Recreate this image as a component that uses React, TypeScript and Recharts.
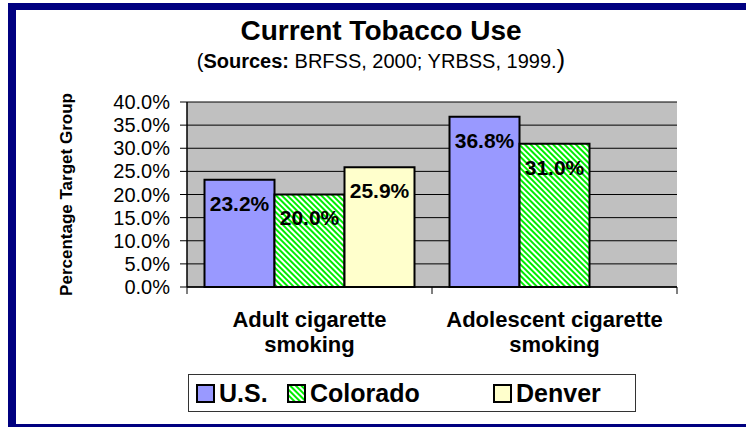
import React from 'react';
import { Bar, BarChart, CartesianGrid, LabelList, Legend, XAxis, YAxis } from 'recharts';

const categories = ['Adult cigarette\nsmoking', 'Adolescent cigarette\nsmoking'];
const usValues = [23.2, 36.8];
const coloradoValues = [20.0, 31.0];
const denverValues: (number | null)[] = [25.9, null];
const yTicks = [0, 5, 10, 15, 20, 25, 30, 35, 40];

const data = categories.map((name, i) => ({
    name,
    us: usValues[i],
    colorado: coloradoValues[i],
    denver: denverValues[i],
}));

const SERIES_ORDER = ['us', 'colorado', 'denver'];

const FILLS: Record<string, string> = {
    us: '#9999FF',
    colorado: 'url(#coloradoHatch)',
    denver: '#FFFFCC',
};

const pct = (v: any) => (v === null || v === undefined ? '' : `${Number(v).toFixed(1)}%`);

const YAxisTitle = (props: any) => {
    const vb = props.viewBox || { x: 55, y: 102, width: 132, height: 185 };
    const cx = vb.x + 11;
    const cy = vb.y + vb.height / 2;
    return (
        <text
            x={cx}
            y={cy}
            transform={`rotate(-90 ${cx} ${cy})`}
            textAnchor="middle"
            dominantBaseline="central"
            fontSize={17}
            fontWeight="bold"
            fill="#000"
        >
            Percentage Target Group
        </text>
    );
};

const CategoryTick = (props: any) => {
    const { x, y, payload, index, width, visibleTicksCount } = props;
    const count = visibleTicksCount || categories.length;
    const half = (width || 490) / count / 2;
    const lines = String(payload.value).split('\n');
    return (
        <g>
            <line x1={x - half} x2={x - half} y1={y - 7} y2={y} stroke="#000" />
            {index === count - 1 && <line x1={x + half} x2={x + half} y1={y - 7} y2={y} stroke="#000" />}
            <text x={x} y={y + 33} textAnchor="middle" fontSize={22} fontWeight="bold" fill="#000">
                {lines.map((l, i) => (
                    <tspan key={i} x={x} dy={i === 0 ? 0 : 25}>
                        {l}
                    </tspan>
                ))}
            </text>
        </g>
    );
};

const slotWidths = [91, 206, 140];

const renderLegend = (props: any) => {
    const items = [...(props.payload || [])].sort(
        (a: any, b: any) => SERIES_ORDER.indexOf(a.dataKey) - SERIES_ORDER.indexOf(b.dataKey)
    );
    return (
        <div
            style={{
                display: 'flex',
                alignItems: 'center',
                height: '100%',
                boxSizing: 'border-box',
                border: '1px solid #333',
                paddingLeft: 7,
                background: '#fff',
            }}
        >
            {items.map((p: any, i: number) => (
                <div key={p.value} style={{ width: slotWidths[i], display: 'flex', alignItems: 'center' }}>
                    <svg width={19} height={19} style={{ flexShrink: 0 }}>
                        <rect x={1} y={1} width={17} height={17} fill={FILLS[p.dataKey]} stroke="#000" strokeWidth={2} />
                    </svg>
                    <span style={{ marginLeft: 4, fontSize: 25, fontWeight: 'bold', color: '#000' }}>{p.value}</span>
                </div>
            ))}
        </div>
    );
};

const labelStyle = { fill: '#000', fontSize: 21, fontWeight: 'bold' as const, stroke: 'none' };

export default function App() {
    return (
        <div
            style={{
                position: 'absolute',
                left: 0,
                top: 0,
                width: 746,
                height: 427,
                overflow: 'hidden',
                background: '#fff',
                fontFamily: '"Liberation Sans", Arial, sans-serif',
            }}
        >
            <div
                style={{
                    position: 'absolute',
                    left: 8,
                    top: 3,
                    width: 760,
                    height: 429,
                    boxSizing: 'border-box',
                    border: '8px solid #000080',
                    borderTopWidth: 7,
                }}
            />
            <svg width={746} height={100} style={{ position: 'absolute', left: 0, top: 0 }}>
                <defs>
                    <pattern
                        id="coloradoHatch"
                        width={4}
                        height={4}
                        patternUnits="userSpaceOnUse"
                        patternTransform="rotate(-45)"
                    >
                        <rect width={4} height={4} fill="#fff" />
                        <rect width={2} height={4} fill="#00EE00" />
                    </pattern>
                </defs>
                <text x={381} y={40} textAnchor="middle" fontSize={28} fontWeight="bold" fill="#000">
                    Current Tobacco Use
                </text>
                <text x={381} y={68} textAnchor="middle" fontSize={20} fill="#000">
                    <tspan>(</tspan>
                    <tspan fontWeight="bold">Sources:</tspan>
                    <tspan> BRFSS, 2000; YRBSS, 1999.</tspan>
                    <tspan fontSize={26}>)</tspan>
                </text>
            </svg>
            <div style={{ position: 'absolute', left: 0, top: 0 }}>
                <BarChart
                    width={746}
                    height={427}
                    data={data}
                    margin={{ top: 102, right: 69, bottom: 60, left: 55 }}
                    barCategoryGap={17.5}
                    barGap={0}
                >
                    <CartesianGrid vertical={false} stroke="#000" fill="#C0C0C0" fillOpacity={1} />
                    <XAxis
                        dataKey="name"
                        height={80}
                        tickSize={7}
                        tickMargin={0}
                        tickLine={false}
                        interval={0}
                        tick={<CategoryTick />}
                        axisLine={{ stroke: '#000', strokeWidth: 1.5 }}
                    />
                    <XAxis
                        xAxisId="frame"
                        dataKey="name"
                        orientation="top"
                        height={0}
                        tick={false}
                        tickLine={false}
                        axisLine={{ stroke: '#808080', strokeWidth: 2 }}
                    />
                    <YAxis
                        domain={[0, 40]}
                        ticks={yTicks}
                        interval={0}
                        tickFormatter={pct}
                        width={132}
                        tickSize={7}
                        tickMargin={10}
                        tick={{ fill: '#000', fontSize: 20 }}
                        tickLine={{ stroke: '#000' }}
                        axisLine={{ stroke: '#000', strokeWidth: 1.5 }}
                        label={<YAxisTitle />}
                    />
                    <YAxis
                        yAxisId="frame"
                        orientation="right"
                        width={0}
                        domain={[0, 40]}
                        tick={false}
                        tickLine={false}
                        axisLine={{ stroke: '#808080', strokeWidth: 2 }}
                    />
                    <Bar dataKey="us" name="U.S." fill={FILLS.us} stroke="#000" strokeWidth={2} isAnimationActive={false}>
                        <LabelList dataKey="us" position="insideTop" offset={16} formatter={pct} {...labelStyle} />
                    </Bar>
                    <Bar dataKey="colorado" name="Colorado" fill={FILLS.colorado} stroke="#000" strokeWidth={2} isAnimationActive={false}>
                        <LabelList dataKey="colorado" position="insideTop" offset={16} formatter={pct} {...labelStyle} />
                    </Bar>
                    <Bar dataKey="denver" name="Denver" fill={FILLS.denver} stroke="#000" strokeWidth={2} isAnimationActive={false}>
                        <LabelList dataKey="denver" position="insideTop" offset={16} formatter={pct} {...labelStyle} />
                    </Bar>
                    <Legend
                        content={renderLegend}
                        layout="horizontal"
                        verticalAlign="middle"
                        align="center"
                        width={448}
                        height={38}
                        wrapperStyle={{ left: 188, top: 374, width: 448, height: 38 }}
                    />
                </BarChart>
            </div>
        </div>
    );
}
